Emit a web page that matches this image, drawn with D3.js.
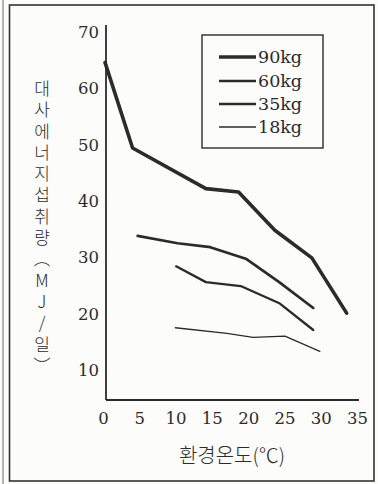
<!DOCTYPE html>
<html>
<head>
<meta charset="utf-8">
<script src="https://cdn.jsdelivr.net/npm/d3@7"></script>
<style>
  body { margin: 0; background: #fcfcfb; }
  svg { display: block; }
  .num { font-family: "DejaVu Serif", "Liberation Serif", "Times New Roman", serif; }
  .kor { font-family: "Noto Sans CJK KR", "Noto Sans", sans-serif; font-weight: 300; }
  .vert { writing-mode: vertical-rl; text-orientation: upright; }
</style>
</head>
<body>
<div id="chart"></div>
<script>

var width = 378,
	height = 484;

// data (temperature in C, intake in MJ/day)

var series_names = ["90kg", "60kg", "35kg", "18kg"];

var temp_90 = [0, 3.8, 13.9, 18.4, 23.4, 28.5, 33.3];
var val_90  = [64.6, 49.4, 42.2, 41.6, 34.8, 29.9, 20.1];

var temp_60 = [4.5, 10, 14.5, 19.5, 24, 28.7];
var val_60  = [33.8, 32.5, 31.8, 29.7, 25.6, 21.0];

var temp_35 = [9.8, 13.9, 18.7, 24.1, 28.7];
var val_35  = [28.4, 25.6, 24.9, 21.8, 17.1];

var temp_18 = [9.7, 16.8, 20.4, 24.8, 29.6];
var val_18  = [17.5, 16.5, 15.8, 16.0, 13.3];

var x_ticks = [0, 5, 10, 15, 20, 25, 30, 35];
var y_ticks = [10, 20, 30, 40, 50, 60, 70];

var y_title = "대사에너지섭취량︵MJ/일︶",
	x_title = "환경온도(℃)";

var series = [
	{name: series_names[0], temp: temp_90, val: val_90, w: 3.6},
	{name: series_names[1], temp: temp_60, val: val_60, w: 2.7},
	{name: series_names[2], temp: temp_35, val: val_35, w: 2.3},
	{name: series_names[3], temp: temp_18, val: val_18, w: 1.3}
];

var ink = "#2b2b2b";

// scales
var X = d3.scaleLinear().domain([0, 35]).range([105, 359]);
var Y = d3.scaleLinear().domain([10, 70]).range([370, 32]);

var svg = d3.select("#chart").append("svg")
	.attr("width", width)
	.attr("height", height);

// frame
svg.append("line")
	.attr("x1", 3).attr("x2", 3).attr("y1", 0).attr("y2", height)
	.attr("stroke", "#9a9a9a").attr("stroke-width", 1.5);

svg.append("rect")
	.attr("x", 9.5).attr("y", 5)
	.attr("width", 364.5).attr("height", 476)
	.attr("fill", "none").attr("stroke", "#333").attr("stroke-width", 1.6);

// axes (no tick marks in the original)
var axis_y0 = 400;
svg.append("line")
	.attr("x1", 106).attr("x2", 106)
	.attr("y1", 25).attr("y2", axis_y0)
	.attr("stroke", ink).attr("stroke-width", 1.8);
svg.append("line")
	.attr("x1", 106).attr("x2", 359)
	.attr("y1", axis_y0).attr("y2", axis_y0)
	.attr("stroke", ink).attr("stroke-width", 1.8);

svg.selectAll(".ytick").data(y_ticks).enter().append("text")
	.attr("class", "ytick num")
	.attr("x", 99)
	.attr("y", function(d){ return Y(d) + 6; })
	.attr("text-anchor", "end")
	.attr("font-size", 16.5)
	.attr("fill", ink)
	.text(function(d){ return d; });

svg.selectAll(".xtick").data(x_ticks).enter().append("text")
	.attr("class", "xtick num")
	.attr("x", function(d){ return X(d) - 1.5; })
	.attr("y", 424)
	.attr("text-anchor", "middle")
	.attr("font-size", 16.5)
	.attr("fill", ink)
	.text(function(d){ return d; });

// axis titles
svg.append("text")
	.attr("class", "kor")
	.attr("x", 232)
	.attr("y", 463)
	.attr("text-anchor", "middle")
	.attr("font-size", 20)
	.attr("fill", ink)
	.text(x_title);

svg.append("text")
	.attr("class", "kor vert")
	.attr("x", 42)
	.attr("y", 80)
	.attr("font-size", 17)
	.attr("letter-spacing", 4.3)
	.attr("fill", ink)
	.text(y_title);

// lines
var line = d3.line()
	.x(function(d){ return X(d[0]); })
	.y(function(d){ return Y(d[1]); });

svg.selectAll(".series").data(series).enter().append("path")
	.attr("class", "series")
	.attr("d", function(s){ return line(d3.zip(s.temp, s.val)); })
	.attr("fill", "none")
	.attr("stroke", ink)
	.attr("stroke-width", function(s){ return s.w; })
	.attr("stroke-linejoin", "round")
	.attr("stroke-linecap", "round");

// legend
var legend = svg.append("g");
legend.append("rect")
	.attr("x", 202).attr("y", 35)
	.attr("width", 121).attr("height", 113)
	.attr("fill", "none").attr("stroke", ink).attr("stroke-width", 1.4);

var rows = legend.selectAll(".row").data(series).enter().append("g")
	.attr("class", "row")
	.attr("transform", function(d, i){ return "translate(0," + [57, 81, 104, 127][i] + ")"; });

rows.append("line")
	.attr("x1", 219).attr("x2", 256)
	.attr("stroke", ink)
	.attr("stroke-width", function(s){ return s.w; });

rows.append("text")
	.attr("class", "num")
	.attr("x", 258)
	.attr("y", 6)
	.attr("font-size", 17.5)
	.attr("fill", ink)
	.text(function(s){ return s.name; });

</script>
</body>
</html>
